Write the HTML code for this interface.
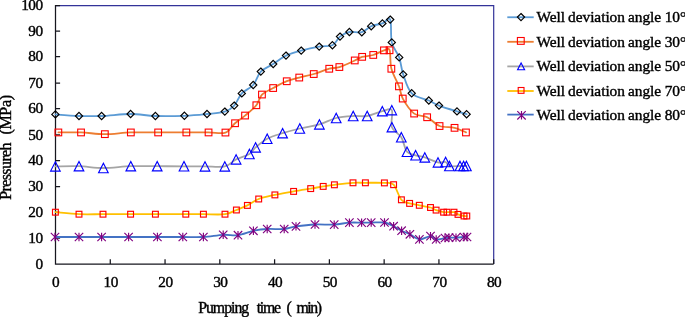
<!DOCTYPE html>
<html><head><meta charset="utf-8"><title>Pressure vs pumping time</title>
<style>html,body{margin:0;padding:0;background:#fff;overflow:hidden}body{width:685px;height:317px;position:relative}</style></head>
<body>
<svg width="685" height="317" viewBox="0 0 685 317" style="position:absolute;left:0;top:0;will-change:transform">
<rect width="685" height="317" fill="#fff"/>
<path d="M55.5,5.6H493.7V264.0" fill="none" stroke="#333399" stroke-width="1.2"/>
<path d="M55.5,5.1V264.0H493.7M55.5,264.00h4.6M55.5,238.00h4.6M55.5,212.40h4.6M55.5,186.60h4.6M55.5,160.50h4.6M55.5,134.80h4.6M55.5,108.50h4.6M55.5,83.00h4.6M55.5,56.50h4.6M55.5,31.00h4.6M55.5,5.55h4.6M55.50,264.0v-4.7M110.28,264.0v-4.7M165.05,264.0v-4.7M219.82,264.0v-4.7M274.60,264.0v-4.7M329.38,264.0v-4.7M384.15,264.0v-4.7M438.93,264.0v-4.7M493.70,264.0v-4.7" fill="none" stroke="#16161e" stroke-width="1.25"/>
<path d="M55.4,114.4C59.3,114.7 71.3,115.7 79.0,116.0C86.7,116.3 93.0,116.3 101.6,116.0C110.2,115.7 121.6,114.0 130.6,114.0C139.6,114.0 146.4,115.7 155.4,116.0C164.4,116.3 175.8,116.1 184.4,115.8C193.0,115.5 200.3,114.7 207.0,114.0C213.7,113.3 220.3,113.0 224.8,111.6C229.3,110.2 231.4,108.6 234.2,105.6C237.0,102.6 238.6,96.8 241.8,93.4C245.0,90.0 250.0,88.6 253.2,85.0C256.4,81.4 257.5,75.1 260.8,71.6C264.1,68.1 269.0,66.7 273.2,64.0C277.4,61.3 281.3,57.8 286.0,55.6C290.7,53.4 295.7,52.1 301.2,50.6C306.7,49.1 314.0,47.5 319.2,46.6C324.4,45.7 328.9,46.9 332.4,45.2C335.9,43.5 337.2,38.8 340.0,36.6C342.8,34.4 345.8,32.7 349.4,32.0C353.0,31.3 358.2,33.2 361.8,32.2C365.4,31.2 367.8,27.7 371.2,26.2C374.6,24.7 379.2,24.5 382.4,23.4C385.6,22.3 388.6,16.4 390.2,19.6C391.8,22.8 390.3,36.1 391.8,42.4C393.3,48.7 397.3,52.1 399.2,57.4C401.1,62.7 401.1,68.4 403.2,74.4C405.3,80.4 407.4,89.0 411.7,93.3C416.0,97.6 424.2,98.5 428.8,100.5C433.4,102.5 434.3,103.8 439.0,105.6C443.7,107.4 452.4,110.0 457.0,111.4C461.6,112.8 465.0,113.7 466.6,114.2" fill="none" stroke="#5b9bd5" stroke-width="1.8" stroke-linejoin="round" stroke-linecap="round"/>
<path d="M58.4,132.4C62.2,132.4 73.3,132.1 81.0,132.4C88.7,132.7 96.5,134.2 104.8,134.2C113.1,134.2 121.9,132.7 130.8,132.4C139.7,132.1 148.9,132.4 158.2,132.4C167.4,132.4 177.9,132.4 186.3,132.4C194.7,132.4 202.1,132.4 208.6,132.4C215.1,132.4 221.0,134.1 225.4,132.6C229.8,131.1 231.7,126.0 235.0,123.2C238.3,120.4 241.4,118.6 245.0,115.6C248.6,112.6 253.5,108.7 256.3,105.2C259.1,101.7 259.2,97.5 262.0,94.6C264.8,91.7 269.1,90.2 273.2,88.0C277.3,85.8 282.4,82.9 286.8,81.2C291.2,79.5 294.8,78.8 299.3,77.6C303.8,76.4 308.8,75.5 313.8,74.0C318.8,72.5 325.0,69.9 329.3,68.7C333.6,67.5 335.1,68.5 339.4,67.1C343.6,65.7 351.0,62.2 354.8,60.5C358.6,58.8 359.0,57.8 362.1,56.9C365.2,56.0 369.7,56.1 373.3,55.0C376.9,53.9 381.3,51.2 384.0,50.4C386.7,49.6 388.4,47.2 389.6,50.2C390.8,53.2 389.8,62.7 391.4,68.7C393.0,74.7 397.1,81.3 399.0,86.3C400.9,91.3 400.3,94.0 402.8,98.6C405.3,103.1 410.1,110.5 414.2,113.6C418.3,116.7 423.0,115.1 427.2,117.2C431.4,119.3 435.0,124.2 439.6,126.0C444.2,127.8 450.2,126.7 454.6,127.8C459.0,128.9 464.1,131.6 466.0,132.4" fill="none" stroke="#ed7d31" stroke-width="1.8" stroke-linejoin="round" stroke-linecap="round"/>
<path d="M55.4,166.4C59.3,166.4 71.0,165.9 79.0,166.2C87.0,166.5 94.8,168.0 103.4,168.0C112.0,168.0 121.8,166.5 130.8,166.2C139.8,165.9 148.3,166.2 157.2,166.2C166.1,166.2 176.0,166.3 184.0,166.3C192.0,166.3 198.2,166.4 205.0,166.4C211.8,166.4 219.6,167.6 224.8,166.4C230.0,165.2 232.0,161.5 236.1,159.4C240.2,157.3 246.2,156.0 249.4,154.0C252.7,152.0 252.6,149.9 255.6,147.4C258.6,144.9 262.7,141.2 267.2,138.8C271.7,136.4 277.2,134.9 282.6,133.2C288.0,131.5 293.7,130.0 299.8,128.5C305.9,127.0 313.3,126.2 319.4,124.4C325.5,122.7 330.6,119.4 336.2,118.0C341.8,116.6 348.0,116.3 353.2,116.0C358.4,115.7 362.3,116.8 367.2,116.0C372.1,115.2 378.2,112.2 382.3,111.2C386.4,110.2 390.2,107.4 391.8,110.1C393.4,112.8 390.3,122.7 391.9,127.2C393.5,131.7 398.8,133.2 401.3,137.3C403.8,141.4 404.6,148.8 407.0,151.8C409.4,154.8 412.6,154.4 415.6,155.3C418.6,156.2 421.1,156.2 424.8,157.4C428.5,158.6 434.5,161.6 438.0,162.4C441.5,163.2 443.7,161.4 445.6,162.0C447.5,162.6 447.0,165.3 449.4,166.0C451.8,166.7 457.6,166.0 460.0,166.0C462.4,166.0 462.5,166.0 463.6,166.0C464.7,166.0 465.9,166.0 466.4,166.0" fill="none" stroke="#a5a5a5" stroke-width="1.8" stroke-linejoin="round" stroke-linecap="round"/>
<path d="M55.4,212.2C59.3,212.5 71.1,213.9 79.0,214.2C86.9,214.5 94.4,214.2 103.0,214.2C111.6,214.2 121.9,214.2 130.6,214.2C139.3,214.2 146.2,214.2 155.4,214.2C164.6,214.2 177.8,214.2 185.8,214.2C193.8,214.2 196.9,214.2 203.4,214.2C209.9,214.2 219.5,214.9 225.0,214.2C230.5,213.5 232.7,211.5 236.4,210.0C240.1,208.5 243.7,207.2 247.4,205.4C251.1,203.6 254.1,200.8 258.7,199.0C263.3,197.2 269.1,196.2 274.9,194.9C280.7,193.6 287.6,192.5 293.6,191.4C299.6,190.3 305.8,189.4 310.7,188.6C315.6,187.8 319.2,187.0 323.2,186.4C327.1,185.8 329.4,185.4 334.4,184.8C339.4,184.2 347.8,183.1 353.0,182.8C358.2,182.5 360.2,182.8 365.4,182.8C370.6,182.8 379.7,182.6 384.4,182.9C389.1,183.2 390.8,181.9 393.6,184.7C396.4,187.5 398.7,196.7 401.4,199.8C404.1,202.9 406.6,202.5 409.6,203.4C412.6,204.3 415.8,204.6 419.3,205.3C422.8,206.0 427.7,206.7 430.5,207.5C433.3,208.3 433.9,209.3 436.1,210.1C438.3,210.9 441.8,211.8 443.6,212.2C445.4,212.5 445.3,212.2 447.0,212.2C448.7,212.2 452.2,211.8 454.0,212.2C455.8,212.6 456.3,213.8 458.0,214.4C459.7,215.0 462.5,215.7 464.0,216.0C465.5,216.3 466.3,216.0 466.8,216.0" fill="none" stroke="#ffc000" stroke-width="1.8" stroke-linejoin="round" stroke-linecap="round"/>
<path d="M55.0,237.0C59.0,237.0 71.2,237.0 79.0,237.0C86.8,237.0 93.3,237.0 101.6,237.0C109.9,237.0 119.3,237.0 128.6,237.0C137.9,237.0 148.4,237.0 157.4,237.0C166.4,237.0 175.1,237.0 182.8,237.0C190.5,237.0 196.7,237.4 203.4,237.0C210.1,236.6 217.4,235.1 223.2,234.8C229.0,234.5 233.0,235.9 238.0,235.2C243.0,234.5 248.5,231.8 253.4,230.8C258.3,229.8 262.1,229.3 267.2,229.0C272.3,228.7 279.4,229.4 284.2,229.0C289.0,228.6 290.9,227.2 296.0,226.4C301.1,225.7 308.6,224.8 315.0,224.5C321.4,224.2 328.5,224.9 334.2,224.6C339.9,224.3 344.8,222.9 349.4,222.6C354.0,222.3 358.0,222.6 361.6,222.6C365.2,222.6 367.4,222.6 371.2,222.6C375.0,222.6 380.8,221.9 384.5,222.5C388.2,223.1 390.8,224.8 393.6,226.2C396.5,227.6 398.9,229.3 401.6,230.7C404.3,232.0 406.9,232.9 409.9,234.3C412.9,235.8 416.0,239.1 419.4,239.4C422.8,239.7 427.7,236.1 430.5,236.1C433.3,236.1 433.8,239.1 436.2,239.4C438.6,239.7 442.9,238.3 445.0,238.0C447.1,237.7 447.2,237.7 449.0,237.6C450.8,237.5 453.5,237.7 456.0,237.6C458.5,237.5 462.2,237.1 464.0,237.0C465.8,236.9 466.5,237.0 467.0,237.0" fill="none" stroke="#4472c4" stroke-width="1.8" stroke-linejoin="round" stroke-linecap="round"/>
<g fill="none" stroke="#000" stroke-width="1.2"><path d="M55.4,110.8L59.0,114.4L55.4,118.0L51.8,114.4Z"/><path d="M79.0,112.4L82.6,116.0L79.0,119.6L75.4,116.0Z"/><path d="M101.6,112.4L105.2,116.0L101.6,119.6L98.0,116.0Z"/><path d="M130.6,110.4L134.2,114.0L130.6,117.6L127.0,114.0Z"/><path d="M155.4,112.4L159.0,116.0L155.4,119.6L151.8,116.0Z"/><path d="M184.4,112.2L188.0,115.8L184.4,119.4L180.8,115.8Z"/><path d="M207.0,110.4L210.6,114.0L207.0,117.6L203.4,114.0Z"/><path d="M224.8,108.0L228.4,111.6L224.8,115.2L221.2,111.6Z"/><path d="M234.2,102.0L237.8,105.6L234.2,109.2L230.6,105.6Z"/><path d="M241.8,89.8L245.4,93.4L241.8,97.0L238.2,93.4Z"/><path d="M253.2,81.4L256.8,85.0L253.2,88.6L249.6,85.0Z"/><path d="M260.8,68.0L264.4,71.6L260.8,75.2L257.2,71.6Z"/><path d="M273.2,60.4L276.8,64.0L273.2,67.6L269.6,64.0Z"/><path d="M286.0,52.0L289.6,55.6L286.0,59.2L282.4,55.6Z"/><path d="M301.2,47.0L304.8,50.6L301.2,54.2L297.6,50.6Z"/><path d="M319.2,43.0L322.8,46.6L319.2,50.2L315.6,46.6Z"/><path d="M332.4,41.6L336.0,45.2L332.4,48.8L328.8,45.2Z"/><path d="M340.0,33.0L343.6,36.6L340.0,40.2L336.4,36.6Z"/><path d="M349.4,28.4L353.0,32.0L349.4,35.6L345.8,32.0Z"/><path d="M361.8,28.6L365.4,32.2L361.8,35.8L358.2,32.2Z"/><path d="M371.2,22.6L374.8,26.2L371.2,29.8L367.6,26.2Z"/><path d="M382.4,19.8L386.0,23.4L382.4,27.0L378.8,23.4Z"/><path d="M390.2,16.0L393.8,19.6L390.2,23.2L386.6,19.6Z"/><path d="M391.8,38.8L395.4,42.4L391.8,46.0L388.2,42.4Z"/><path d="M399.2,53.8L402.8,57.4L399.2,61.0L395.6,57.4Z"/><path d="M403.2,70.8L406.8,74.4L403.2,78.0L399.6,74.4Z"/><path d="M411.7,89.7L415.3,93.3L411.7,96.9L408.1,93.3Z"/><path d="M428.8,96.9L432.4,100.5L428.8,104.1L425.2,100.5Z"/><path d="M439.0,102.0L442.6,105.6L439.0,109.2L435.4,105.6Z"/><path d="M457.0,107.8L460.6,111.4L457.0,115.0L453.4,111.4Z"/><path d="M466.6,110.6L470.2,114.2L466.6,117.8L463.0,114.2Z"/></g>
<g fill="none" stroke="#ff0000" stroke-width="1.1"><rect x="55.0" y="129.1" width="6.7" height="6.7"/><rect x="77.7" y="129.1" width="6.7" height="6.7"/><rect x="101.5" y="130.8" width="6.7" height="6.7"/><rect x="127.5" y="129.1" width="6.7" height="6.7"/><rect x="154.8" y="129.1" width="6.7" height="6.7"/><rect x="183.0" y="129.1" width="6.7" height="6.7"/><rect x="205.2" y="129.1" width="6.7" height="6.7"/><rect x="222.1" y="129.2" width="6.7" height="6.7"/><rect x="231.7" y="119.9" width="6.7" height="6.7"/><rect x="241.7" y="112.2" width="6.7" height="6.7"/><rect x="253.0" y="101.9" width="6.7" height="6.7"/><rect x="258.6" y="91.2" width="6.7" height="6.7"/><rect x="269.8" y="84.7" width="6.7" height="6.7"/><rect x="283.4" y="77.9" width="6.7" height="6.7"/><rect x="295.9" y="74.2" width="6.7" height="6.7"/><rect x="310.4" y="70.7" width="6.7" height="6.7"/><rect x="325.9" y="65.4" width="6.7" height="6.7"/><rect x="336.0" y="63.7" width="6.7" height="6.7"/><rect x="351.4" y="57.1" width="6.7" height="6.7"/><rect x="358.8" y="53.5" width="6.7" height="6.7"/><rect x="369.9" y="51.6" width="6.7" height="6.7"/><rect x="380.6" y="47.0" width="6.7" height="6.7"/><rect x="386.2" y="46.9" width="6.7" height="6.7"/><rect x="388.0" y="65.4" width="6.7" height="6.7"/><rect x="395.6" y="83.0" width="6.7" height="6.7"/><rect x="399.4" y="95.2" width="6.7" height="6.7"/><rect x="410.8" y="110.2" width="6.7" height="6.7"/><rect x="423.8" y="113.9" width="6.7" height="6.7"/><rect x="436.2" y="122.7" width="6.7" height="6.7"/><rect x="451.2" y="124.5" width="6.7" height="6.7"/><rect x="462.6" y="129.1" width="6.7" height="6.7"/></g>
<g fill="none" stroke="#0000ff" stroke-width="1.15"><path d="M55.4,161.7L60.2,171.1L50.6,171.1Z"/><path d="M79.0,161.5L83.8,170.9L74.2,170.9Z"/><path d="M103.4,163.3L108.2,172.7L98.6,172.7Z"/><path d="M130.8,161.5L135.6,170.9L126.0,170.9Z"/><path d="M157.2,161.5L162.0,170.9L152.4,170.9Z"/><path d="M184.0,161.6L188.8,171.0L179.2,171.0Z"/><path d="M205.0,161.7L209.8,171.1L200.2,171.1Z"/><path d="M224.8,161.7L229.6,171.1L220.0,171.1Z"/><path d="M236.1,154.7L240.9,164.1L231.3,164.1Z"/><path d="M249.4,149.3L254.2,158.7L244.6,158.7Z"/><path d="M255.6,142.7L260.4,152.1L250.8,152.1Z"/><path d="M267.2,134.1L272.0,143.5L262.4,143.5Z"/><path d="M282.6,128.5L287.4,137.9L277.8,137.9Z"/><path d="M299.8,123.8L304.6,133.2L295.0,133.2Z"/><path d="M319.4,119.7L324.2,129.1L314.6,129.1Z"/><path d="M336.2,113.3L341.0,122.7L331.4,122.7Z"/><path d="M353.2,111.3L358.0,120.7L348.4,120.7Z"/><path d="M367.2,111.3L372.0,120.7L362.4,120.7Z"/><path d="M382.3,106.5L387.1,115.9L377.5,115.9Z"/><path d="M391.8,105.4L396.6,114.8L387.0,114.8Z"/><path d="M391.9,122.5L396.7,131.9L387.1,131.9Z"/><path d="M401.3,132.6L406.1,142.0L396.5,142.0Z"/><path d="M407.0,147.1L411.8,156.5L402.2,156.5Z"/><path d="M415.6,150.6L420.4,160.0L410.8,160.0Z"/><path d="M424.8,152.7L429.6,162.1L420.0,162.1Z"/><path d="M438.0,157.7L442.8,167.1L433.2,167.1Z"/><path d="M445.6,157.3L450.4,166.7L440.8,166.7Z"/><path d="M449.4,161.3L454.2,170.7L444.6,170.7Z"/><path d="M460.0,161.3L464.8,170.7L455.2,170.7Z"/><path d="M463.6,161.3L468.4,170.7L458.8,170.7Z"/><path d="M466.4,161.3L471.2,170.7L461.6,170.7Z"/></g>
<g fill="none" stroke="#ff0000" stroke-width="1.15"><rect x="52.5" y="209.3" width="5.8" height="5.8"/><rect x="76.1" y="211.3" width="5.8" height="5.8"/><rect x="100.1" y="211.3" width="5.8" height="5.8"/><rect x="127.7" y="211.3" width="5.8" height="5.8"/><rect x="152.5" y="211.3" width="5.8" height="5.8"/><rect x="182.9" y="211.3" width="5.8" height="5.8"/><rect x="200.5" y="211.3" width="5.8" height="5.8"/><rect x="222.1" y="211.3" width="5.8" height="5.8"/><rect x="233.5" y="207.1" width="5.8" height="5.8"/><rect x="244.5" y="202.5" width="5.8" height="5.8"/><rect x="255.8" y="196.1" width="5.8" height="5.8"/><rect x="272.0" y="192.0" width="5.8" height="5.8"/><rect x="290.7" y="188.5" width="5.8" height="5.8"/><rect x="307.8" y="185.7" width="5.8" height="5.8"/><rect x="320.3" y="183.5" width="5.8" height="5.8"/><rect x="331.5" y="181.9" width="5.8" height="5.8"/><rect x="350.1" y="179.9" width="5.8" height="5.8"/><rect x="362.5" y="179.9" width="5.8" height="5.8"/><rect x="381.5" y="180.0" width="5.8" height="5.8"/><rect x="390.7" y="181.8" width="5.8" height="5.8"/><rect x="398.5" y="196.9" width="5.8" height="5.8"/><rect x="406.7" y="200.5" width="5.8" height="5.8"/><rect x="416.4" y="202.4" width="5.8" height="5.8"/><rect x="427.6" y="204.6" width="5.8" height="5.8"/><rect x="433.2" y="207.2" width="5.8" height="5.8"/><rect x="440.7" y="209.3" width="5.8" height="5.8"/><rect x="444.1" y="209.3" width="5.8" height="5.8"/><rect x="451.1" y="209.3" width="5.8" height="5.8"/><rect x="455.1" y="211.5" width="5.8" height="5.8"/><rect x="461.1" y="213.1" width="5.8" height="5.8"/><rect x="463.9" y="213.1" width="5.8" height="5.8"/></g>
<g fill="none" stroke="#800080" stroke-width="1.15"><path d="M50.8,232.8L59.2,241.2M59.2,232.8L50.8,241.2M55.0,232.8L55.0,241.2"/><path d="M74.8,232.8L83.2,241.2M83.2,232.8L74.8,241.2M79.0,232.8L79.0,241.2"/><path d="M97.4,232.8L105.8,241.2M105.8,232.8L97.4,241.2M101.6,232.8L101.6,241.2"/><path d="M124.4,232.8L132.8,241.2M132.8,232.8L124.4,241.2M128.6,232.8L128.6,241.2"/><path d="M153.2,232.8L161.6,241.2M161.6,232.8L153.2,241.2M157.4,232.8L157.4,241.2"/><path d="M178.6,232.8L187.0,241.2M187.0,232.8L178.6,241.2M182.8,232.8L182.8,241.2"/><path d="M199.2,232.8L207.6,241.2M207.6,232.8L199.2,241.2M203.4,232.8L203.4,241.2"/><path d="M219.0,230.6L227.4,239.0M227.4,230.6L219.0,239.0M223.2,230.6L223.2,239.0"/><path d="M233.8,231.0L242.2,239.4M242.2,231.0L233.8,239.4M238.0,231.0L238.0,239.4"/><path d="M249.2,226.6L257.6,235.0M257.6,226.6L249.2,235.0M253.4,226.6L253.4,235.0"/><path d="M263.0,224.8L271.4,233.2M271.4,224.8L263.0,233.2M267.2,224.8L267.2,233.2"/><path d="M280.0,224.8L288.4,233.2M288.4,224.8L280.0,233.2M284.2,224.8L284.2,233.2"/><path d="M291.8,222.2L300.2,230.6M300.2,222.2L291.8,230.6M296.0,222.2L296.0,230.6"/><path d="M310.8,220.3L319.2,228.7M319.2,220.3L310.8,228.7M315.0,220.3L315.0,228.7"/><path d="M330.0,220.4L338.4,228.8M338.4,220.4L330.0,228.8M334.2,220.4L334.2,228.8"/><path d="M345.2,218.4L353.6,226.8M353.6,218.4L345.2,226.8M349.4,218.4L349.4,226.8"/><path d="M357.4,218.4L365.8,226.8M365.8,218.4L357.4,226.8M361.6,218.4L361.6,226.8"/><path d="M367.0,218.4L375.4,226.8M375.4,218.4L367.0,226.8M371.2,218.4L371.2,226.8"/><path d="M380.3,218.3L388.7,226.7M388.7,218.3L380.3,226.7M384.5,218.3L384.5,226.7"/><path d="M389.4,222.0L397.8,230.4M397.8,222.0L389.4,230.4M393.6,222.0L393.6,230.4"/><path d="M397.4,226.5L405.8,234.9M405.8,226.5L397.4,234.9M401.6,226.5L401.6,234.9"/><path d="M405.7,230.1L414.1,238.5M414.1,230.1L405.7,238.5M409.9,230.1L409.9,238.5"/><path d="M415.2,235.2L423.6,243.6M423.6,235.2L415.2,243.6M419.4,235.2L419.4,243.6"/><path d="M426.3,231.9L434.7,240.3M434.7,231.9L426.3,240.3M430.5,231.9L430.5,240.3"/><path d="M432.0,235.2L440.4,243.6M440.4,235.2L432.0,243.6M436.2,235.2L436.2,243.6"/><path d="M440.8,233.8L449.2,242.2M449.2,233.8L440.8,242.2M445.0,233.8L445.0,242.2"/><path d="M444.8,233.4L453.2,241.8M453.2,233.4L444.8,241.8M449.0,233.4L449.0,241.8"/><path d="M451.8,233.4L460.2,241.8M460.2,233.4L451.8,241.8M456.0,233.4L456.0,241.8"/><path d="M459.8,232.8L468.2,241.2M468.2,232.8L459.8,241.2M464.0,232.8L464.0,241.2"/><path d="M462.8,232.8L471.2,241.2M471.2,232.8L462.8,241.2M467.0,232.8L467.0,241.2"/></g>
<path d="M507.3,17.25H533.7" stroke="#5b9bd5" stroke-width="1.8" fill="none"/>
<path d="M507.3,41.8H533.7" stroke="#ed7d31" stroke-width="1.8" fill="none"/>
<path d="M507.3,66.4H533.7" stroke="#a5a5a5" stroke-width="1.8" fill="none"/>
<path d="M507.3,91.0H533.7" stroke="#ffc000" stroke-width="1.8" fill="none"/>
<path d="M507.3,114.6H533.7" stroke="#4472c4" stroke-width="1.8" fill="none"/>
<g fill="none" stroke="#000" stroke-width="1.2"><path d="M521.0,13.5L524.6,17.1L521.0,20.7L517.4,17.1Z"/></g>
<g fill="none" stroke="#ff0000" stroke-width="1.1"><rect x="517.4" y="37.5" width="6.8" height="6.8"/></g>
<g fill="none" stroke="#0000ff" stroke-width="1.15"><path d="M521.1,62.9L524.6,69.7L517.6,69.7Z"/></g>
<g fill="none" stroke="#ff0000" stroke-width="1.1"><rect x="518.2" y="87.5" width="5.8" height="5.8"/></g>
<g fill="none" stroke="#800080" stroke-width="1.15"><path d="M517.3,111.1L525.7,119.5M525.7,111.1L517.3,119.5M521.5,111.1L521.5,119.5"/></g>
<g font-family="'Liberation Serif', serif" font-size="15.3" fill="#000" stroke="#000" stroke-width="0.4">
<text x="536.5" y="22.2" font-size="15.4" word-spacing="-0.7" letter-spacing="-0.05">Well deviation angle <tspan dx="0.5">10°</tspan></text>
<text x="536.5" y="46.6" font-size="15.4" word-spacing="-0.7" letter-spacing="-0.05">Well deviation angle <tspan dx="0.5">30°</tspan></text>
<text x="536.5" y="71.1" font-size="15.4" word-spacing="-0.7" letter-spacing="-0.05">Well deviation angle <tspan dx="0.5">50°</tspan></text>
<text x="536.5" y="95.5" font-size="15.4" word-spacing="-0.7" letter-spacing="-0.05">Well deviation angle <tspan dx="0.5">70°</tspan></text>
<text x="536.5" y="120.2" font-size="15.4" word-spacing="-0.7" letter-spacing="-0.05">Well deviation angle <tspan dx="0.5">80°</tspan></text>
<text x="42.6" y="269.1" text-anchor="end" letter-spacing="-0.5">0</text>
<text x="42.6" y="242.6" text-anchor="end" letter-spacing="-0.5">10</text>
<text x="42.6" y="217.1" text-anchor="end" letter-spacing="-0.5">20</text>
<text x="42.6" y="191.3" text-anchor="end" letter-spacing="-0.5">30</text>
<text x="42.6" y="165.2" text-anchor="end" letter-spacing="-0.5">40</text>
<text x="42.6" y="139.6" text-anchor="end" letter-spacing="-0.5">50</text>
<text x="42.6" y="113.2" text-anchor="end" letter-spacing="-0.5">60</text>
<text x="42.6" y="87.7" text-anchor="end" letter-spacing="-0.5">70</text>
<text x="42.6" y="61.2" text-anchor="end" letter-spacing="-0.5">80</text>
<text x="42.6" y="35.7" text-anchor="end" letter-spacing="-0.5">90</text>
<text x="42.6" y="9.9" text-anchor="end" letter-spacing="-0.5">100</text>
<text x="55.5" y="286.7" text-anchor="middle" letter-spacing="-0.5">0</text>
<text x="110.7" y="286.7" text-anchor="middle" letter-spacing="-0.5">10</text>
<text x="165.5" y="286.7" text-anchor="middle" letter-spacing="-0.5">20</text>
<text x="220.3" y="286.7" text-anchor="middle" letter-spacing="-0.5">30</text>
<text x="275.1" y="286.7" text-anchor="middle" letter-spacing="-0.5">40</text>
<text x="329.8" y="286.7" text-anchor="middle" letter-spacing="-0.5">50</text>
<text x="384.6" y="286.7" text-anchor="middle" letter-spacing="-0.5">60</text>
<text x="439.4" y="286.7" text-anchor="middle" letter-spacing="-0.5">70</text>
<text x="494.1" y="286.7" text-anchor="middle" letter-spacing="-0.5">80</text>
<text y="313.45" font-size="15.8" letter-spacing="-1.0"><tspan x="198.2">Pumping</tspan> <tspan x="256.7" letter-spacing="-1.25">time</tspan> <tspan x="286.5">(</tspan> <tspan x="296.5" letter-spacing="-1.45">min)</tspan></text>
<text transform="translate(10.9,199.8) rotate(-90)" font-size="16" letter-spacing="-0.6"><tspan x="0">Pressureh</tspan> <tspan x="65.2" letter-spacing="-0.3">(MPa)</tspan></text>
</g>
</svg>
</body></html>
